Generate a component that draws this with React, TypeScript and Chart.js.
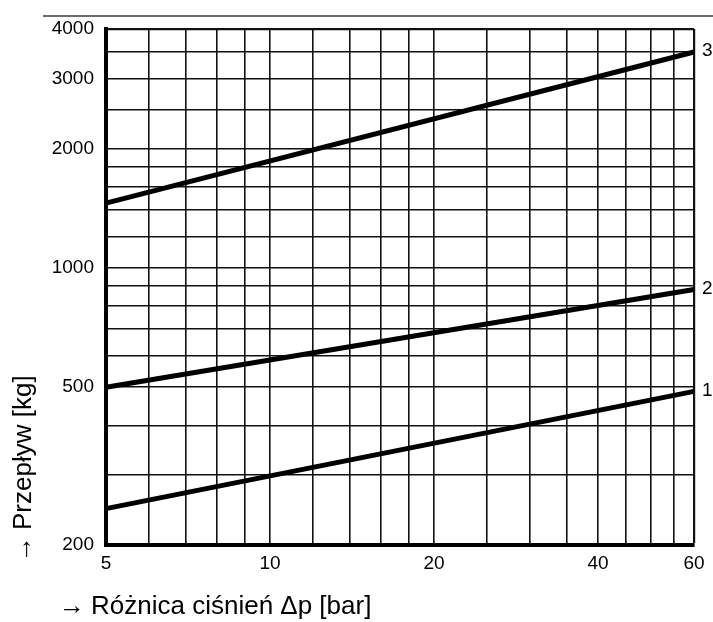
import React, { useEffect, useRef } from 'react';
import { Chart, registerables } from 'chart.js';

Chart.register(...registerables);

// ---- data ----
const pressure = [5, 60];
const flowCurve1 = [247, 488];
const flowCurve2 = [500, 882];
const flowCurve3 = [1455, 3500];
const curveLabels = ['1', '2', '3'];

const xGridValues = [5, 6, 7, 8, 9, 10, 12, 14, 16, 18, 20, 25, 30, 35, 40, 45, 50, 55, 60];
const xTickLabels = [5, 10, 20, 40, 60];
const yGridValues = [200, 300, 400, 500, 600, 700, 800, 900, 1000, 1200, 1400, 1600, 1800, 2000, 2500, 3000, 3500, 4000];
const yTickLabels = [200, 500, 1000, 2000, 3000, 4000];

const xTitle = 'Różnica ciśnień Δp [bar]';
const yTitle = 'Przepływ [kg]';
const arrow = '→';

const FONT = '"Liberation Sans", Arial, Helvetica, sans-serif';

const toPoints = (ys: number[]) => pressure.map((x, i) => ({ x, y: ys[i] }));

const decorPlugin = {
  id: 'decor',
  afterDraw(chart: any) {
    const ctx = chart.ctx as CanvasRenderingContext2D;
    const area = chart.chartArea;
    ctx.save();
    // top rule
    ctx.strokeStyle = '#3a3a3a';
    ctx.lineWidth = 1.5;
    ctx.beginPath();
    ctx.moveTo(43, 16);
    ctx.lineTo(713, 16);
    ctx.stroke();

    // curve end labels
    ctx.fillStyle = '#000';
    ctx.font = `19px ${FONT}`;
    ctx.textAlign = 'left';
    ctx.textBaseline = 'middle';
    chart.data.datasets.forEach((ds: any, i: number) => {
      const meta = chart.getDatasetMeta(i);
      const last = meta.data[meta.data.length - 1];
      if (!last) return;
      ctx.fillText(ds.label, area.right + 8, last.y - 1);
    });

    // x title
    ctx.font = `26px ${FONT}`;
    ctx.textBaseline = 'alphabetic';
    ctx.textAlign = 'left';
    ctx.fillText(xTitle, 91, 614);
    ctx.textAlign = 'right';
    ctx.fillText(arrow, 85, 614);

    // y title (rotated)
    ctx.translate(31, 0);
    ctx.rotate(-Math.PI / 2);
    ctx.textAlign = 'left';
    ctx.fillText(yTitle, -530, 0);
    ctx.textAlign = 'right';
    ctx.fillText(arrow, -536, 0);
    ctx.restore();
  },
};

export default function App() {
  const canvasRef = useRef<HTMLCanvasElement | null>(null);

  useEffect(() => {
    if (!canvasRef.current) return;
    const datasets = [flowCurve1, flowCurve2, flowCurve3].map((ys, i) => ({
      label: curveLabels[i],
      data: toPoints(ys),
      borderColor: '#000',
      backgroundColor: '#000',
      borderWidth: 5,
      pointRadius: 0,
      tension: 0,
      fill: false,
      clip: false as any,
    }));

    const chart = new Chart(canvasRef.current, {
      type: 'line',
      data: { datasets },
      options: {
        animation: false,
        responsive: false,
        layout: { padding: { left: 0, top: 29, right: 19, bottom: 0 } },
        plugins: {
          legend: { display: false },
          tooltip: { enabled: false },
        },
        scales: {
          x: {
            type: 'logarithmic',
            min: 5,
            max: 60,
            afterBuildTicks: (s: any) => {
              s.ticks = xGridValues.map((v) => ({ value: v }));
            },
            afterFit: (s: any) => {
              s.height = 77;
            },
            ticks: {
              autoSkip: false,
              maxRotation: 0,
              minRotation: 0,
              padding: 7,
              color: '#000',
              font: { family: FONT, size: 19 },
              callback: (v: any) => (xTickLabels.includes(Number(v)) ? String(v) : ''),
            },
            grid: {
              drawTicks: false,
              color: '#111',
              lineWidth: (c: any) => (c.tick && c.tick.value === 60 ? 2.2 : 1.6),
            },
            border: { display: true, width: 4, color: '#000' },
          },
          y: {
            type: 'logarithmic',
            min: 200,
            max: 4000,
            afterBuildTicks: (s: any) => {
              s.ticks = yGridValues.map((v) => ({ value: v }));
            },
            afterFit: (s: any) => {
              s.width = 106;
            },
            ticks: {
              autoSkip: false,
              padding: 12,
              color: '#000',
              font: { family: FONT, size: 19 },
              callback: (v: any) => (yTickLabels.includes(Number(v)) ? String(v) : ''),
            },
            grid: {
              drawTicks: false,
              color: '#111',
              lineWidth: (c: any) => (c.tick && c.tick.value === 4000 ? 2.2 : 1.6),
            },
            border: { display: true, width: 4, color: '#000' },
          },
        },
      },
      plugins: [decorPlugin],
    });
    return () => chart.destroy();
  }, []);

  return (
    <div style={{ position: 'absolute', left: 0, top: 0, width: 713, height: 622, background: '#fff' }}>
      <canvas ref={canvasRef} width={713} height={622} style={{ display: 'block' }} />
    </div>
  );
}
